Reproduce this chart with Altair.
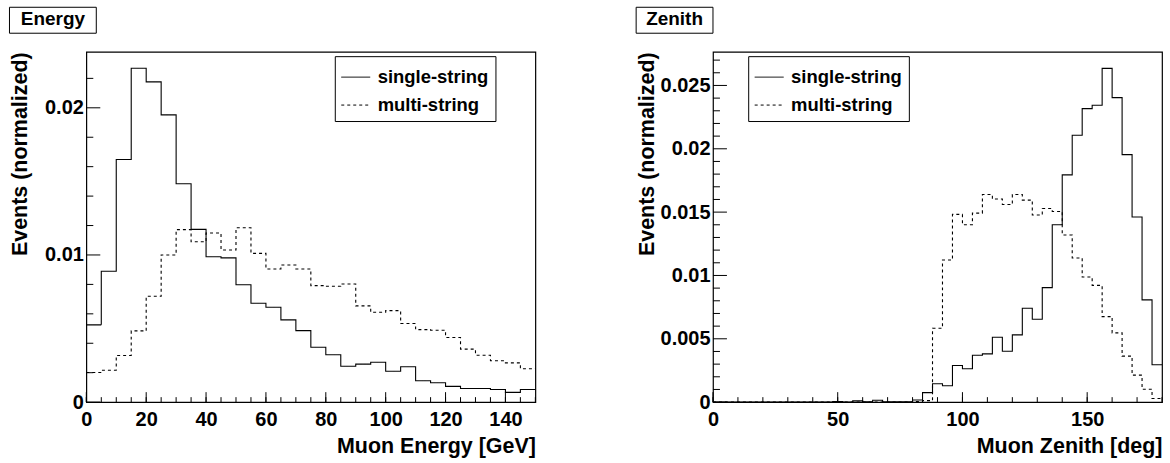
import altair as alt
import pandas as pd

FONT = "Liberation Sans"
SERIES = ["single-string", "multi-string"]
Y_TITLE = "Events (normalized)"

# ---------------- Energy panel data ----------------
energy_edges = list(range(0, 151, 5))
energy_single = [0.00525, 0.00889, 0.01649, 0.02269, 0.02176, 0.01952, 0.01484, 0.01174, 0.00988, 0.0098,
                 0.00798, 0.00672, 0.00645, 0.00559, 0.00486, 0.00373, 0.00322, 0.00244, 0.00258, 0.00271,
                 0.0021, 0.0024, 0.00145, 0.00132, 0.00107, 0.00093, 0.00093, 0.00086, 0.00066, 0.00086]
energy_multi = [0.00201, 0.00217, 0.00317, 0.00484, 0.00719, 0.01, 0.01172, 0.0109, 0.01149, 0.01034,
                0.01185, 0.01011, 0.00905, 0.00932, 0.00905, 0.00792, 0.00787, 0.00803, 0.00654, 0.00611,
                0.00622, 0.00534, 0.00493, 0.00488, 0.00439, 0.0036, 0.00319, 0.00281, 0.00267, 0.00227]
energy_xlabels = [0, 20, 40, 60, 80, 100, 120, 140]
energy_xminor = list(range(0, 151, 5))
energy_ylabels = [0, 0.01, 0.02]
energy_yminor = [0.002, 0.004, 0.006, 0.008, 0.012, 0.014, 0.016, 0.018, 0.022]

# ---------------- Zenith panel data ----------------
zenith_edges = list(range(0, 181, 4))
zenith_single = [0, 0, 0, 0, 0, 0, 0, 0, 0, 0, 0, 0,
                 0.00005, 0, 0.0001, 0.00003, 0.00015, 0.00003, 0.00002, 0.00003,
                 0.00017, 0.00075, 0.00145, 0.00129, 0.00289, 0.00263, 0.0037, 0.00381, 0.00512, 0.00402,
                 0.00531, 0.00741, 0.00654, 0.00904, 0.014, 0.01794, 0.02107, 0.02317, 0.02344, 0.02635,
                 0.02404, 0.01954, 0.01461, 0.00807, 0.00295]
zenith_multi = [0, 0, 0, 0, 0, 0, 0, 0, 0, 0, 0, 0, 0, 0, 0, 0, 0, 0, 0, 0,
                0.00005, 0.00012, 0.00583, 0.01122, 0.01482, 0.014, 0.01492, 0.01639, 0.01603, 0.0156,
                0.01639, 0.01595, 0.01477, 0.01529, 0.01505, 0.01319, 0.01138, 0.00988, 0.00922, 0.00675,
                0.00547, 0.00363, 0.00213, 0.00102, 0.00029]
zenith_xlabels = [0, 50, 100, 150]
zenith_xminor = list(range(0, 181, 10))
zenith_ylabels = [0, 0.005, 0.01, 0.015, 0.02, 0.025]
zenith_yminor = [0.001, 0.002, 0.003, 0.004, 0.006, 0.007, 0.008, 0.009, 0.011, 0.012, 0.013, 0.014,
                 0.016, 0.017, 0.018, 0.019, 0.021, 0.022, 0.023, 0.024, 0.026, 0.027]

W, H = 450, 351


def hist_frame(edges, values, name):
    xs = list(edges[:-1]) + [edges[-1]]
    ys = list(values) + [values[-1]]
    return pd.DataFrame({"x": xs, "y": ys, "series": name})


def panel(title, edges, single, multi, xdom, ydom, xlabels, xminor, ylabels, yminor,
          yfmt, xtitle, legend_x, box_x, box_x2, title_x):
    df = pd.concat([hist_frame(edges, single, SERIES[0]),
                    hist_frame(edges, multi, SERIES[1])], ignore_index=True)
    xs = alt.Scale(domain=xdom, nice=False, zero=False)
    ys = alt.Scale(domain=ydom, nice=False, zero=False)

    hist = alt.Chart(df).mark_line(interpolate="step-after", strokeWidth=1.1, color="black").encode(
        x=alt.X("x:Q", scale=xs,
                axis=alt.Axis(values=xlabels, format="d", title=xtitle, titleAnchor="end",
                              titleBaseline="alphabetic", titleY=50, labelPadding=7,
                              labelFlush=False)),
        y=alt.Y("y:Q", scale=ys,
                axis=alt.Axis(values=ylabels, format=yfmt, title=Y_TITLE, titleAnchor="end",
                              titleBaseline="alphabetic", titleX=-60, labelPadding=3,
                              labelFlush=False)),
        strokeDash=alt.StrokeDash("series:N", sort=SERIES,
                                  scale=alt.Scale(domain=SERIES, range=[[1, 0], [3, 3]]),
                                  legend=alt.Legend(orient="none", legendX=legend_x, legendY=4.3,
                                                    title=None, strokeColor="black", fillColor="white",
                                                    padding=6, symbolType="stroke", symbolSize=841,
                                                    symbolStrokeWidth=1, symbolStrokeColor="black",
                                                    labelFont=FONT, labelFontSize=18.5,
                                                    labelFontWeight="bold", labelColor="black",
                                                    labelOffset=7, rowPadding=3, cornerRadius=0)),
    )

    def xticks(vals, length):
        return alt.Chart(pd.DataFrame({"x": vals})).mark_rule(color="black", strokeWidth=1).encode(
            x=alt.X("x:Q", scale=xs), y=alt.value(H), y2=alt.value(H - length))

    def yticks(vals, length):
        return alt.Chart(pd.DataFrame({"y": vals})).mark_rule(color="black", strokeWidth=1).encode(
            y=alt.Y("y:Q", scale=ys), x=alt.value(0), x2=alt.value(length))

    tdf = pd.DataFrame({"t": [title]})
    box = alt.Chart(tdf).mark_rect(fill="white", stroke="black", strokeWidth=1).encode(
        x=alt.value(box_x), x2=alt.value(box_x2), y=alt.value(-44.7), y2=alt.value(-18.7))
    txt = alt.Chart(tdf).mark_text(font=FONT, fontSize=19, fontWeight="bold", color="black",
                                   align="center", baseline="alphabetic").encode(
        text="t:N", x=alt.value(title_x), y=alt.value(-26.5))

    return alt.layer(
        hist, xticks(xminor, 5), xticks(xlabels, 10), yticks(yminor, 7), yticks(ylabels, 14),
        box, txt
    ).properties(width=W, height=H)


left = panel("Energy", energy_edges, energy_single, energy_multi, [0, 150], [0, 0.0238],
             energy_xlabels, energy_xminor, energy_ylabels, energy_yminor, ".2~f",
             "Muon Energy [GeV]", 249, -77, 10, -33.5)
right = panel("Zenith", zenith_edges, zenith_single, zenith_multi, [0, 180], [0, 0.02765],
              zenith_xlabels, zenith_xminor, zenith_ylabels, zenith_yminor, ".3~f",
              "Muon Zenith [deg]", 35.3, -77, 0, -38.5)

chart = alt.hconcat(left, right, spacing=96).resolve_scale(
    strokeDash="independent").resolve_legend(strokeDash="independent").properties(
    padding={"left": 7.5, "top": 5.5, "right": 5, "bottom": 0}, background="white"
).configure_view(stroke="black", strokeWidth=1.2).configure_axis(
    labelFont=FONT, labelFontSize=20, labelFontWeight="bold", labelColor="black",
    titleFont=FONT, titleFontSize=21.5, titleFontWeight="bold", titleColor="black",
    grid=False, domain=False, ticks=False, tickSize=0
)

chart.save("out.html", embed_options={"renderer": "svg", "actions": False})
